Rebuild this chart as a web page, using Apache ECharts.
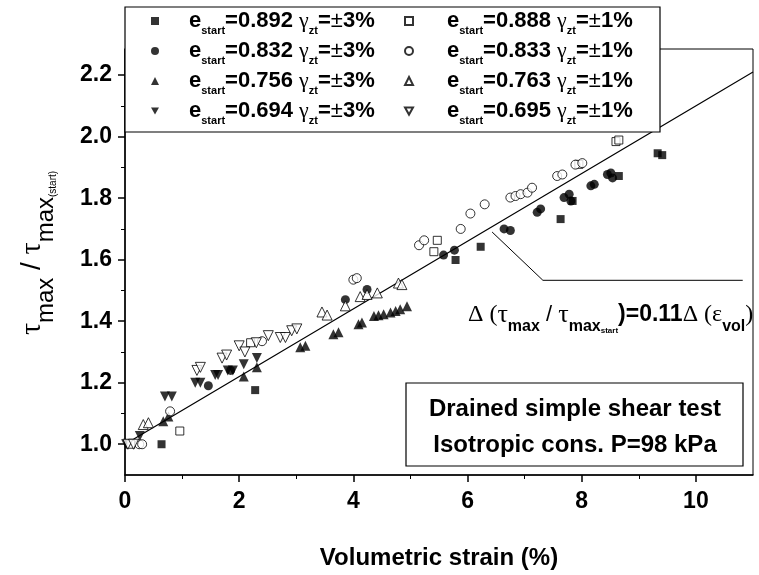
<!DOCTYPE html>
<html>
<head>
<meta charset="utf-8">
<style>
    html, body { margin: 0; padding: 0; background: #fff; }
    #main { width: 759px; height: 575px; }
</style>
</head>
<body>
<div id="main"></div>
<script src="https://cdn.jsdelivr.net/npm/echarts@6/dist/echarts.min.js"></script>
<script>
    // values: [volumetric strain (%), tau_max / tau_max(start)]
    var eStart = ['0.892', '0.832', '0.756', '0.694', '0.888', '0.833', '0.763', '0.695'];
    var gammaZt = ['3%', '3%', '3%', '3%', '1%', '1%', '1%', '1%'];

    var e892 = [[0.64, 1.0], [2.28, 1.176], [5.79, 1.599], [6.23, 1.642], [7.63, 1.732], [7.84, 1.791],
        [8.65, 1.872], [9.33, 1.946], [9.41, 1.94]];
    var e832 = [[1.46, 1.19], [1.85, 1.24], [3.86, 1.47], [4.24, 1.503], [5.58, 1.615], [5.77, 1.631],
        [6.64, 1.70], [6.75, 1.695], [7.22, 1.754], [7.28, 1.765], [7.69, 1.802], [7.78, 1.813],
        [7.81, 1.791], [8.16, 1.84], [8.22, 1.845], [8.45, 1.877], [8.51, 1.882], [8.54, 1.866]];
    var e756 = [[0.67, 1.075], [0.76, 1.09], [2.08, 1.22], [2.31, 1.25], [3.07, 1.315], [3.16, 1.32],
        [3.65, 1.358], [3.74, 1.364], [4.09, 1.39], [4.15, 1.396], [4.36, 1.417], [4.44, 1.419],
        [4.53, 1.423], [4.65, 1.428], [4.74, 1.433], [4.82, 1.439], [4.94, 1.449]];
    var e694 = [[0.02, 1.0], [0.26, 1.027], [0.70, 1.155], [0.82, 1.155], [1.23, 1.2], [1.32, 1.2],
        [1.58, 1.225], [1.63, 1.225], [1.80, 1.24], [1.89, 1.24], [2.08, 1.26], [2.31, 1.28]];
    var e888 = [[0.10, 1.0], [0.96, 1.043], [2.20, 1.33], [5.41, 1.626], [5.47, 1.663], [7.95, 1.91],
        [8.60, 1.984], [8.65, 1.989]];
    var e833 = [[0.25, 1.0], [0.30, 1.0], [0.79, 1.107], [2.40, 1.335], [4.00, 1.535], [4.06, 1.54],
        [5.15, 1.647], [5.24, 1.663], [5.88, 1.70], [6.05, 1.75], [6.30, 1.78], [6.75, 1.802],
        [6.84, 1.807], [6.93, 1.813], [7.05, 1.818], [7.13, 1.834], [7.57, 1.872], [7.66, 1.877],
        [7.89, 1.909], [8.01, 1.914]];
    var e763 = [[0.32, 1.064], [0.41, 1.07], [3.45, 1.43], [3.54, 1.42], [3.86, 1.45], [4.12, 1.48],
        [4.24, 1.487], [4.42, 1.492], [4.79, 1.524], [4.85, 1.519]];
    var e695 = [[0.05, 1.0], [0.15, 1.0], [1.26, 1.24], [1.32, 1.25], [1.70, 1.28], [1.78, 1.29],
        [2.00, 1.32], [2.10, 1.30], [2.30, 1.33], [2.51, 1.353], [2.72, 1.347], [2.81, 1.347],
        [2.92, 1.369], [3.01, 1.375]];

    var fitLine = [[0, 1.0], [11, 2.21]];
    var arrowPath = [[10.82, 1.533], [7.32, 1.533], [6.43, 1.69]];

    var xLabels = [0, 2, 4, 6, 8, 10];
    var xMinor = [1, 3, 5, 7, 9];
    var yLabels = [1.0, 1.2, 1.4, 1.6, 1.8, 2.0, 2.2];
    var yMinor = [1.1, 1.3, 1.5, 1.7, 1.9, 2.1];

    var allData = [e892, e832, e756, e694, e888, e833, e763, e695];
    var symbols = ['rect', 'circle', 'triangle', 'triangle', 'rect', 'circle', 'triangle', 'triangle'];
    var sizes = [8, 9, 10, 10, 8, 9, 10, 10];
    var names = eStart.map(function (e, i) { return 'e' + e + ' ' + gammaZt[i]; });

    var SANS = 'Liberation Sans, Arial, sans-serif';
    var SERIF = 'Liberation Serif, Times New Roman, serif';
    var DOWN = 'path://M0,0L10,0L5,9Z';

    var myChart = echarts.init(document.getElementById('main'));

    var series = allData.map(function (d, i) {
        var hollow = i >= 4;
        return {
            name: names[i],
            type: 'scatter',
            data: d,
            symbol: symbols[i],
            symbolSize: sizes[i],
            symbolRotate: (i === 3 || i === 7) ? 180 : 0,
            itemStyle: hollow ? { color: '#fff', borderColor: '#000', borderWidth: 1 } : { color: '#000' },
            emphasis: { disabled: true },
            z: 3
        };
    });
    series.unshift({
        type: 'line',
        data: fitLine,
        symbol: 'none',
        lineStyle: { color: '#000', width: 1.2 },
        silent: true,
        z: 2
    });
    series.push({
        type: 'lines',
        coordinateSystem: 'cartesian2d',
        polyline: true,
        symbol: ['none', 'arrow'],
        symbolSize: 8,
        lineStyle: { color: '#000', width: 1, opacity: 1 },
        data: [{ coords: arrowPath }],
        silent: true,
        z: 4
    });

    function legendRich(pad) {
        var m = { fontFamily: SANS, fontWeight: 'bold', fontSize: 22, lineHeight: 30, color: '#000' };
        return {
            e: Object.assign({}, m, { padding: [0, 0, 0, pad] }),
            m: m,
            s: { fontFamily: SANS, fontWeight: 'bold', fontSize: 11, lineHeight: 12, verticalAlign: 'bottom', color: '#000' },
            g: { fontFamily: SERIF, fontSize: 22, lineHeight: 30, color: '#000' },
            p: { fontFamily: SANS, fontSize: 22, lineHeight: 30, color: '#000' }
        };
    }
    function legendText(name) {
        var i = names.indexOf(name);
        return '{e|e}{s|start}{m|=' + eStart[i] + ' }{g|γ}{s|zt}{m|=}{p|±}{m|' + gammaZt[i] + '}';
    }
    function legendItems(from, to) {
        var out = [];
        for (var i = from; i < to; i++) {
            out.push((i === 3 || i === 7) ? { name: names[i], icon: DOWN } : { name: names[i] });
        }
        return out;
    }
    function legendBlock(list, left, pad) {
        return {
            data: list,
            left: left,
            top: 10,
            orient: 'vertical',
            padding: 0,
            itemGap: 4,
            itemWidth: 8,
            itemHeight: 8,
            selectedMode: false,
            formatter: legendText,
            textStyle: { rich: legendRich(pad) },
            z: 20
        };
    }

    var option = {
        animation: false,
        backgroundColor: '#fff',
        grid: {
            left: 125, right: 6, top: 49, bottom: 93,
            show: true, borderColor: '#000', borderWidth: 1
        },
        legend: [legendBlock(legendItems(0, 4), 151, 25), legendBlock(legendItems(4, 8), 404, 29)],
        xAxis: [{
            type: 'value', min: 0, max: 11,
            name: 'Volumetric strain (%)',
            nameLocation: 'middle',
            nameGap: 71,
            nameTextStyle: { fontFamily: SANS, fontWeight: 'bold', fontSize: 24, color: '#000' },
            axisLine: { lineStyle: { color: '#000', width: 1.5 } },
            axisTick: { customValues: xLabels, length: 7, lineStyle: { color: '#000', width: 1.5 } },
            axisLabel: {
                customValues: xLabels, margin: 15,
                fontFamily: SANS, fontWeight: 'bold', fontSize: 23, color: '#000'
            },
            splitLine: { show: false }
        }, {
            type: 'value', min: 0, max: 11, position: 'bottom',
            axisLine: { show: false },
            axisTick: { customValues: xMinor, length: 4, lineStyle: { color: '#000', width: 1 } },
            axisLabel: { show: false },
            splitLine: { show: false }
        }],
        yAxis: [{
            type: 'value', min: 0.9, max: 2.285,
            axisLine: { lineStyle: { color: '#000', width: 1.5 } },
            axisTick: { customValues: yLabels, length: 7, lineStyle: { color: '#000', width: 1.5 } },
            axisLabel: {
                customValues: yLabels, margin: 13,
                formatter: function (v) { return v.toFixed(1); },
                fontFamily: SANS, fontWeight: 'bold', fontSize: 23, color: '#000'
            },
            splitLine: { show: false }
        }, {
            type: 'value', min: 0.9, max: 2.285, position: 'left',
            axisLine: { show: false },
            axisTick: { customValues: yMinor, length: 4, lineStyle: { color: '#000', width: 1 } },
            axisLabel: { show: false },
            splitLine: { show: false }
        }],
        graphic: [
            // legend frame
            {
                type: 'rect', z: 10,
                shape: { x: 125, y: 7, width: 535, height: 125 },
                style: { fill: '#fff', stroke: '#000', lineWidth: 1.2 }
            },
            // test conditions box
            {
                type: 'rect', z: 10,
                shape: { x: 406, y: 383, width: 337, height: 83 },
                style: { fill: '#fff', stroke: '#000', lineWidth: 1.2 }
            },
            {
                type: 'text', z: 11, x: 575, y: 409,
                style: {
                    text: 'Drained simple shear test', align: 'center', verticalAlign: 'middle',
                    font: 'bold 24px ' + SANS, fill: '#000'
                }
            },
            {
                type: 'text', z: 11, x: 575, y: 445,
                style: {
                    text: 'Isotropic cons. P=98 kPa', align: 'center', verticalAlign: 'middle',
                    font: 'bold 24px ' + SANS, fill: '#000'
                }
            },
            // slope annotation
            {
                type: 'text', z: 11, x: 468, y: 315,
                style: {
                    text: '{d|Δ (}{t|τ}{sm|max}{sl| / }{t|τ}{sm|max}{ss|start}{b|)=0.11}{d|Δ (ε}{sm|vol}{d|)}',
                    align: 'left', verticalAlign: 'middle',
                    rich: {
                        d: { fontFamily: SERIF, fontSize: 24, lineHeight: 40, fill: '#000' },
                        t: { fontFamily: SERIF, fontSize: 26, lineHeight: 40, fill: '#000' },
                        sm: { fontFamily: SANS, fontWeight: 'bold', fontSize: 16, lineHeight: 26, verticalAlign: 'bottom', fill: '#000' },
                        sl: { fontFamily: SANS, fontSize: 22, lineHeight: 40, fill: '#000' },
                        ss: { fontFamily: SANS, fontWeight: 'bold', fontSize: 8, lineHeight: 4, verticalAlign: 'bottom', fill: '#000' },
                        b: { fontFamily: SANS, fontWeight: 'bold', fontSize: 23, lineHeight: 40, fill: '#000' }
                    }
                }
            },
            // y axis title
            {
                type: 'text', z: 11, x: 32, y: 253, rotation: Math.PI / 2,
                style: {
                    text: '{t|τ}{m|max}{sl| / }{t|τ}{m|max}{ss|(start)}',
                    align: 'center', verticalAlign: 'middle',
                    rich: {
                        t: { fontFamily: SERIF, fontSize: 30, lineHeight: 52, fill: '#000' },
                        m: { fontFamily: SANS, fontSize: 24, lineHeight: 34, verticalAlign: 'bottom', fill: '#000' },
                        sl: { fontFamily: SANS, fontSize: 28, lineHeight: 52, fill: '#000' },
                        ss: { fontFamily: SANS, fontSize: 10, lineHeight: 6, verticalAlign: 'bottom', fill: '#000' }
                    }
                }
            }
        ],
        series: series
    };

    myChart.setOption(option);
</script>
</body>
</html>
